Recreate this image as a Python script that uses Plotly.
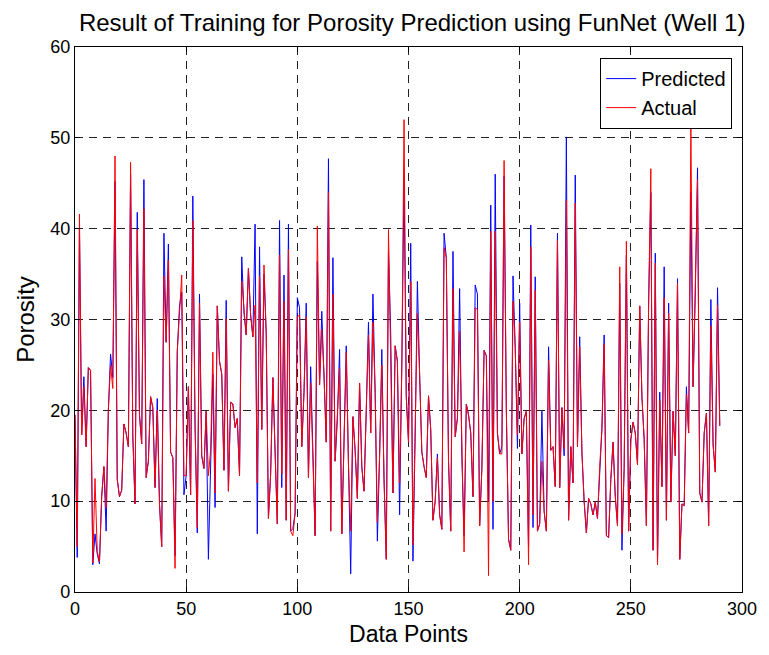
import plotly.graph_objects as go

predicted = [
    # 0-39
    19.5, 3.8, 40, 17.3, 23.7, 16, 24.7, 24.4, 3, 6.4, 4.2, 3.1, 10.5, 13.8, 6.7, 20, 26.2, 23.6, 45.2, 12.4,
    10.5, 11.2, 18.5, 17.5, 16, 46, 17, 9.7, 41.8, 19.5, 16.3, 45.4, 12.6, 14.4, 21.5, 20.3, 11.5, 21.3, 9.7, 5,
    # 40-78
    39.5, 27.5, 38.3, 15.4, 14.8, 4, 26.5, 31.5, 33, 10.7, 12.8, 22.6, 10.7, 43.6, 18.3, 6.5, 32.8, 15, 13.6, 19.9,
    3.6, 15.6, 24, 9.3, 31.5, 25.4, 24, 13.4, 32.1, 11.1, 20.9, 20.7, 18.1, 19.1, 12.8, 36.9, 30.7, 28.3, 35.6,
    # 79-120
    30.5, 28.1, 40.5, 6.4, 38, 17.9, 35, 28.5, 8.1, 13, 23.6, 15.2, 7.5, 40.9, 11.5, 34.9, 7.9, 40.5, 6.7, 7,
    8.7, 32.4, 31.3, 16, 22, 31.8, 12.6, 24.8, 15.2, 6.2, 36.4, 22.8, 30.9, 24, 16.5, 47.7, 6.7, 36.8, 14.4, 19,
    26.7, 6.4,
    # 121-161
    16, 27.1, 14, 2, 19.3, 15.6, 10.3, 23, 13.8, 11.1, 20, 29.7, 17.5, 32.8, 22, 5.6, 15, 26.7, 12.4, 3.6,
    37.5, 28.5, 10.9, 27.1, 25.4, 8.5, 25, 45.4, 21.5, 16.5, 38.4, 3.4, 17.1, 34.2, 24, 15.4, 13.8, 12.6, 21.6, 17.9,
    7.9,
    # 162-200
    10, 15.2, 8.5, 6.9, 39.5, 36.8, 14.4, 6.7, 37.5, 17.1, 19.1, 33.4, 14.8, 6.2, 20.7, 19.5, 17.5, 10.5, 33.8, 32.8,
    7.3, 13.6, 26.6, 26, 10, 42.6, 6.9, 46, 17.5, 15.2, 16, 45.8, 20, 5.8, 4.6, 34.8, 26.9, 15.8, 31.8,
    # 201-240
    15.2, 19.1, 19.9, 5, 40.4, 7.1, 34.7, 6.7, 7.5, 19.9, 8.9, 6.7, 27, 15.6, 16, 11.6, 39.5, 11.5, 20.3, 15,
    50.1, 7.9, 16, 12, 45.9, 16, 28.1, 15.4, 10, 6.5, 10.3, 9.7, 8.5, 9.9, 8.1, 13.8, 18, 28.3, 6.2, 6,
    # 241-278
    12.4, 16.5, 10.5, 7.3, 34, 4.6, 13.6, 37.1, 6.7, 16.8, 18.7, 17.5, 14, 31.5, 21.5, 16.8, 7.3, 31.8, 44, 4.6,
    37.3, 3, 22, 11.6, 35.8, 7.9, 31.8, 9.9, 19.9, 15, 34.5, 3.6, 9.7, 9.5, 22.6, 17.5, 44, 22.6,
    # 279-290
    32.8, 46.7, 10.9, 9.9, 17.5, 19.7, 7.3, 32.2, 16.2, 13.2, 33.5, 18.3,
]

actual = [
    # 0-39
    19.5, 5, 41.6, 17.3, 22.6, 16, 24.7, 24.4, 3.2, 12.5, 4.5, 3.3, 10.5, 13.8, 9.3, 20, 25, 22.4, 48, 12.4,
    10.5, 11.2, 18.5, 17.5, 16, 47.3, 17.5, 9.7, 39.9, 19.5, 16.3, 42.2, 12.6, 14.4, 21.5, 20.3, 11.5, 20, 9.7, 5,
    # 40-78
    34.8, 27.5, 36.5, 15.4, 14.8, 2.6, 26.5, 31.5, 34.9, 12.8, 12.8, 22.6, 10.7, 40.9, 18.3, 7.1, 31.8, 15, 13.6, 19.9,
    12.8, 15.6, 26.4, 10.9, 31.5, 25.4, 24, 13.4, 30.1, 11.1, 20.9, 20.7, 18.1, 19.1, 12.8, 34.2, 30.7, 28.3, 35.6,
    # 79-120
    30.5, 28.1, 31.6, 12, 34.8, 17.9, 36, 28.5, 8.1, 13, 23.6, 15.2, 7.5, 37.1, 13, 32, 7.9, 37.7, 6.7, 6.2,
    8.7, 30.3, 30.5, 16, 22, 30.3, 12.6, 23, 15.2, 6.2, 40.3, 22.8, 28.9, 24, 16.5, 44, 6.7, 32.8, 14.4, 19,
    24.6, 6.4,
    # 121-161
    16, 26.4, 14, 6.7, 19.3, 15.6, 10.3, 23, 13.8, 11.1, 20, 28.3, 17.5, 29.7, 22, 7.7, 15, 25, 12.4, 3.6,
    39.9, 27.3, 10.9, 27.1, 25.4, 12, 25, 52, 21.5, 16.5, 34.2, 5.2, 17.1, 30.7, 24, 15.4, 13.8, 12.6, 21.6, 17.9,
    7.9,
    # 162-200
    10, 14.8, 8.5, 6.9, 37.9, 36.8, 14.4, 6.7, 33.4, 17.1, 19.1, 28.7, 14.8, 4.4, 20.7, 19.5, 17.5, 10.5, 31.3, 31.1,
    7.3, 13.6, 26.6, 26, 1.8, 39.7, 10, 39.7, 17.5, 15.2, 15.2, 47.5, 20, 5.8, 4.6, 32, 26.9, 17.3, 29.7,
    # 201-240
    15.2, 19.1, 19.9, 3, 38, 8.5, 33.2, 6.7, 7.5, 14.4, 8.9, 6.7, 25.5, 15.6, 16, 11.6, 38.7, 11.5, 20.3, 15.8,
    43.1, 7.9, 16, 12, 42.8, 16, 27, 15.4, 10, 6.5, 10.3, 9.7, 8.5, 9.9, 8.1, 13.8, 18, 27.3, 6.2, 6,
    # 241-278
    12.4, 16.5, 10.5, 7.3, 35.8, 6.4, 13.6, 38.6, 6.7, 16.8, 18.7, 17.5, 14, 31.5, 21.5, 16.8, 7.3, 31.8, 46.6, 4.6,
    36.2, 3, 21.1, 11.6, 32.4, 7.9, 30.7, 9.9, 19.9, 15, 34, 3.6, 9.7, 9.5, 21.8, 17.5, 51.5, 22.6,
    # 279-290
    32.8, 45.4, 10.9, 9.9, 17.5, 19.7, 7.3, 29.3, 16.2, 13.2, 31.6, 18.3,
]

x_points = list(range(len(actual)))
x_ticks = [0, 50, 100, 150, 200, 250, 300]
y_ticks = [0, 10, 20, 30, 40, 50, 60]

FONT = "Liberation Sans, Arial, Helvetica, sans-serif"

fig = go.Figure()
fig.add_trace(go.Scatter(x=x_points, y=predicted, mode="lines", name="Predicted",
                         line=dict(color="#0000ff", width=1)))
fig.add_trace(go.Scatter(x=x_points, y=actual, mode="lines", name="Actual",
                         line=dict(color="#ff0000", width=1)))

axis_common = dict(
    showline=True, linecolor="black", linewidth=1.2, mirror="ticks",
    ticks="inside", ticklen=5, tickcolor="black",
    showgrid=True, gridcolor="#222222", gridwidth=0.8, griddash="8px,6px",
    zeroline=False, tickfont=dict(family=FONT, size=18, color="black"),
)

fig.update_layout(
    width=769, height=655,
    margin=dict(l=75, r=19, t=47, b=63),
    paper_bgcolor="white", plot_bgcolor="white",
    title=dict(text="Result of Training for Porosity Prediction using FunNet (Well 1)",
               x=0.536, xanchor="center", y=0.966, yanchor="middle",
               font=dict(family=FONT, size=24, color="black")),
    xaxis=dict(range=[0, 300], tickvals=x_ticks, title=dict(text="Data Points", standoff=8,
               font=dict(family=FONT, size=23, color="black")), **axis_common),
    yaxis=dict(range=[0, 60], tickvals=y_ticks, title=dict(text="Porosity", standoff=8,
               font=dict(family=FONT, size=24, color="black")), **axis_common),
    legend=dict(x=0.985, xanchor="right", y=0.98, yanchor="top",
                bgcolor="white", bordercolor="black", borderwidth=1.2,
                font=dict(family=FONT, size=20, color="black"),
                entrywidth=110, tracegroupgap=2),
    showlegend=True,
)

fig.write_html("out.html")
